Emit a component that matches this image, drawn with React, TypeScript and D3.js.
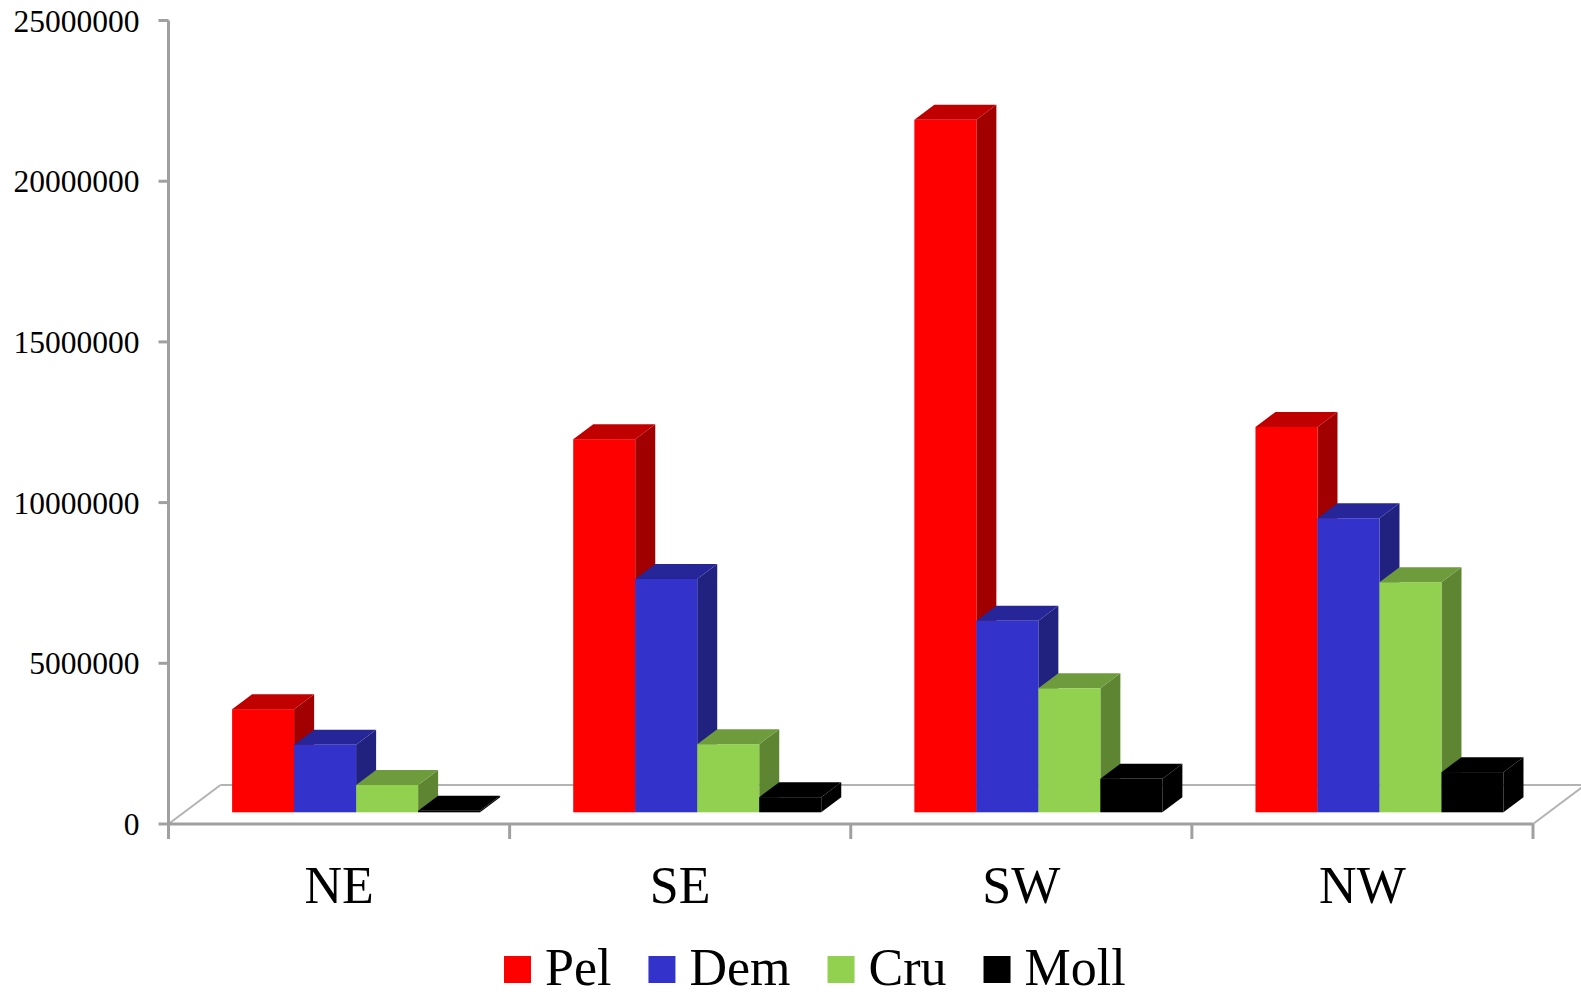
import React, { useMemo } from "react";
import * as d3 from "d3";

const categories = ["NE", "SE", "SW", "NW"];
const seriesNames = ["Pel", "Dem", "Cru", "Moll"];
const pel = [3210000, 11610000, 21550000, 11990000];
const dem = [2100000, 7260000, 5960000, 9150000];
const cru = [850000, 2120000, 3860000, 7160000];
const moll = [50000, 470000, 1040000, 1250000];
const yTicks = [0, 5000000, 10000000, 15000000, 20000000, 25000000];

const seriesValues = [pel, dem, cru, moll];
const frontColors = ["#FF0000", "#3333CC", "#92D050", "#000000"];
const topColors = ["#C00000", "#262699", "#6E9C3C", "#000000"];
const sideColors = ["#A00000", "#21217F", "#5E8632", "#000000"];

const W = 1581;
const H = 997;
const FONT = "'Liberation Serif', 'Times New Roman', serif";

export default function App() {
  const x0 = 168.5;
  const x1 = 1533;
  const yBase = 824;
  const y = d3.scaleLinear().domain([0, 25000000]).range([yBase, 20.5]);
  const xBand = d3.scaleBand<string>().domain(categories).range([x0, x1]).padding(0);
  const inner = d3.scaleBand<string>().domain(seriesNames).range([48, 48 + 248]).padding(0);

  // depth geometry
  const floorDx = 52, floorDy = -39;
  const planeDx = 15.6, planeDy = -11.7;
  const barDx = 20, barDy = -15;

  const legendLayout = useMemo(() => {
    let widths = seriesNames.map((s) => s.length * 26);
    try {
      const ctx = document.createElement("canvas").getContext("2d");
      if (ctx) {
        ctx.font = `52px ${FONT}`;
        widths = seriesNames.map((s) => ctx.measureText(s).width);
      }
    } catch (e) {}
    const out: { x: number; tx: number }[] = [];
    let cx = 504;
    widths.forEach((w) => {
      out.push({ x: cx, tx: cx + 27 + 14 });
      cx += 27 + 14 + w + 37;
    });
    return out;
  }, []);

  const bars: JSX.Element[] = [];
  categories.forEach((c, ci) => {
    seriesNames.forEach((s, si) => {
      const v = seriesValues[si][ci];
      const h = yBase - y(v);
      const left = (xBand(c) as number) + (inner(s) as number) + planeDx;
      const right = left + inner.bandwidth();
      const bottom = yBase + planeDy;
      const top = bottom - h;
      const side = [
        [right, bottom],
        [right + barDx, bottom + barDy],
        [right + barDx, top + barDy],
        [right, top],
      ];
      const topFace = [
        [left, top],
        [right, top],
        [right + barDx, top + barDy],
        [left + barDx, top + barDy],
      ];
      const pts = (p: number[][]) => p.map((q) => q.join(",")).join(" ");
      bars.push(
        <g key={`${c}-${s}`}>
          <polygon points={pts(side)} fill={sideColors[si]} />
          <polygon points={pts(topFace)} fill={topColors[si]} />
          <rect x={left} y={top} width={right - left} height={Math.max(h, 0)} fill={frontColors[si]} />
        </g>
      );
    });
  });

  return (
    <svg
      width={W}
      height={H}
      style={{ position: "absolute", left: 0, top: 0, background: "#fff" }}
      fontFamily={FONT}
    >
      {/* floor */}
      <g stroke="#b3b3b3" strokeWidth={2} fill="none">
        <line x1={x0} y1={yBase} x2={x0 + floorDx} y2={yBase + floorDy} />
        <line x1={x0 + floorDx} y1={yBase + floorDy} x2={x1 + floorDx} y2={yBase + floorDy} />
        <line x1={x1} y1={yBase} x2={x1 + floorDx} y2={yBase + floorDy} />
      </g>
      {bars}
      {/* value axis */}
      <g stroke="#a0a0a0" strokeWidth={3}>
        <line x1={x0} y1={y(25000000)} x2={x0} y2={yBase} />
        {yTicks.map((t) => (
          <line key={t} x1={x0 - 10} y1={y(t)} x2={x0} y2={y(t)} />
        ))}
      </g>
      <g fontSize={31.5} textAnchor="end" fill="#000">
        {yTicks.map((t) => (
          <text key={t} x={139.5} y={y(t)} dy="0.35em">
            {String(t)}
          </text>
        ))}
      </g>
      {/* category axis */}
      <g stroke="#a0a0a0" strokeWidth={3}>
        <line x1={x0} y1={yBase} x2={x1} y2={yBase} />
        {[...categories.map((c) => xBand(c) as number), x1].map((xv, i) => (
          <line key={i} x1={xv} y1={yBase} x2={xv} y2={yBase + 15} />
        ))}
      </g>
      <g fontSize={52} textAnchor="middle" fill="#000">
        {categories.map((c) => (
          <text key={c} x={(xBand(c) as number) + xBand.bandwidth() / 2} y={903}>
            {c}
          </text>
        ))}
      </g>
      {/* legend */}
      <g>
        {seriesNames.map((s, i) => (
          <g key={s}>
            <rect x={legendLayout[i].x} y={956} width={27} height={27} fill={frontColors[i]} />
            <text x={legendLayout[i].tx} y={985} fontSize={52} fill="#000">
              {s}
            </text>
          </g>
        ))}
      </g>
    </svg>
  );
}
